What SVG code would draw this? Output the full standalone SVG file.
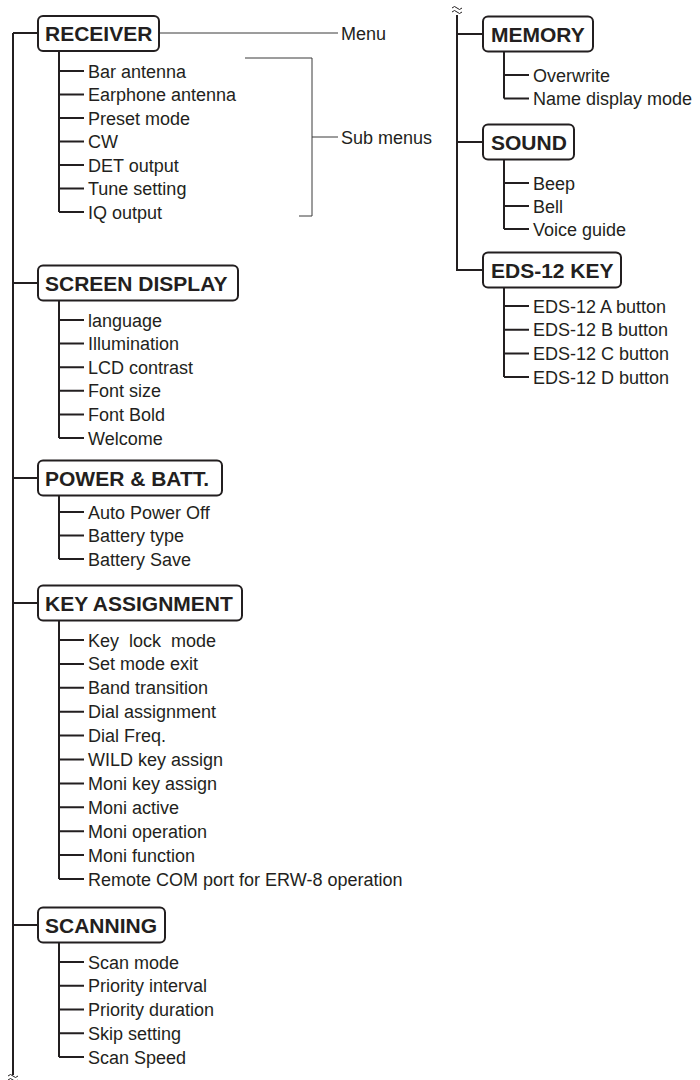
<svg xmlns="http://www.w3.org/2000/svg" width="700" height="1080" viewBox="0 0 700 1080">
<style>
.bg{fill:#ffffff}
.tree{fill:none;stroke:#231f20;stroke-width:2}
.note{fill:none;stroke:#3a3a3a;stroke-width:1}
.box{fill:#ffffff;stroke:#231f20;stroke-width:2}
.hd{font-family:"Liberation Sans",Arial,sans-serif;font-weight:bold;font-size:21px;fill:#231f20}
.it{font-family:"Liberation Sans",Arial,sans-serif;font-size:18px;fill:#231f20;white-space:pre}
.brk{fill:none;stroke:#231f20;stroke-width:1}
</style>
<rect class="bg" x="0" y="0" width="700" height="1080"/>
<g id="connectors">
  <path class="tree" d="M13,33 V1075"/>
  <path class="tree" d="M13,33 H38 M13,283 H38 M13,478 H38 M13,603 H38 M13,925 H38"/>
  <path class="tree" d="M457,15 V270"/>
  <path class="tree" d="M456,34 H483 M456,142 H483 M456,270 H483"/>
  <path class="brk" d="M452,8 q2.5,-3 5,0 t5,0 M452,12 q2.5,-3 5,0 t5,0"/>
  <path class="brk" d="M8,1076 q2.5,-3 5,0 t5,0 M8,1080 q2.5,-3 5,0 t5,0"/>
  <path class="note" d="M160,33 H338"/>
  <path class="note" d="M245,58 H312 V216 H299 M312,137 H338"/>
</g>
<g id="menu-label"><text class="it" x="341" y="39.5">Menu</text></g>
<g id="submenus-label"><text class="it" x="341" y="143.5">Sub menus</text></g>

<g id="receiver">
  <rect class="box" x="38" y="16" width="121" height="35" rx="5"/>
  <text class="hd" x="45" y="40.5">RECEIVER</text>
  <path class="tree" d="M59,51 V212 M59,71 H84 M59,94.5 H84 M59,118 H84 M59,141.5 H84 M59,165 H84 M59,188.5 H84 M59,212 H84"/>
  <text class="it" x="88" y="77.5">Bar antenna</text>
  <text class="it" x="88" y="101">Earphone antenna</text>
  <text class="it" x="88" y="124.5">Preset mode</text>
  <text class="it" x="88" y="148">CW</text>
  <text class="it" x="88" y="171.5">DET output</text>
  <text class="it" x="88" y="195">Tune setting</text>
  <text class="it" x="88" y="218.5">IQ output</text>
</g>

<g id="screen-display">
  <rect class="box" x="38" y="265.5" width="200" height="35" rx="5"/>
  <text class="hd" x="45" y="290.5">SCREEN DISPLAY</text>
  <path class="tree" d="M59,300.5 V438 M59,320 H84 M59,343.6 H84 M59,367.2 H84 M59,390.8 H84 M59,414.4 H84 M59,438 H84"/>
  <text class="it" x="88" y="326.5">language</text>
  <text class="it" x="88" y="350.1">Illumination</text>
  <text class="it" x="88" y="373.7">LCD contrast</text>
  <text class="it" x="88" y="397.3">Font size</text>
  <text class="it" x="88" y="420.9">Font Bold</text>
  <text class="it" x="88" y="444.5">Welcome</text>
</g>

<g id="power-batt">
  <rect class="box" x="38" y="460.5" width="184" height="35" rx="5"/>
  <text class="hd" x="45" y="485.5">POWER &amp; BATT.</text>
  <path class="tree" d="M59,495.5 V559 M59,512 H84 M59,535.5 H84 M59,559 H84"/>
  <text class="it" x="88" y="518.5">Auto Power Off</text>
  <text class="it" x="88" y="542">Battery type</text>
  <text class="it" x="88" y="565.5">Battery Save</text>
</g>

<g id="key-assignment">
  <rect class="box" x="38" y="585.5" width="204" height="35" rx="5"/>
  <text class="hd" x="45" y="610.5">KEY ASSIGNMENT</text>
  <path class="tree" d="M59,620.5 V879 M59,640 H84 M59,663.9 H84 M59,687.8 H84 M59,711.7 H84 M59,735.6 H84 M59,759.5 H84 M59,783.4 H84 M59,807.3 H84 M59,831.2 H84 M59,855.1 H84 M59,879 H84"/>
  <text class="it" x="88" y="646.5">Key  lock  mode</text>
  <text class="it" x="88" y="670.4">Set mode exit</text>
  <text class="it" x="88" y="694.3">Band transition</text>
  <text class="it" x="88" y="718.2">Dial assignment</text>
  <text class="it" x="88" y="742.1">Dial Freq.</text>
  <text class="it" x="88" y="766">WILD key assign</text>
  <text class="it" x="88" y="789.9">Moni key assign</text>
  <text class="it" x="88" y="813.8">Moni active</text>
  <text class="it" x="88" y="837.7">Moni operation</text>
  <text class="it" x="88" y="861.6">Moni function</text>
  <text class="it" x="88" y="885.5">Remote COM port for ERW-8 operation</text>
</g>

<g id="scanning">
  <rect class="box" x="38" y="907.5" width="127" height="35" rx="5"/>
  <text class="hd" x="45" y="932.5">SCANNING</text>
  <path class="tree" d="M59,942.5 V1057 M59,962 H84 M59,985.8 H84 M59,1009.5 H84 M59,1033.3 H84 M59,1057 H84"/>
  <text class="it" x="88" y="968.5">Scan mode</text>
  <text class="it" x="88" y="992.3">Priority interval</text>
  <text class="it" x="88" y="1016">Priority duration</text>
  <text class="it" x="88" y="1039.8">Skip setting</text>
  <text class="it" x="88" y="1063.5">Scan Speed</text>
</g>

<g id="memory">
  <rect class="box" x="483" y="16.5" width="110" height="35" rx="5"/>
  <text class="hd" x="491" y="41.5">MEMORY</text>
  <path class="tree" d="M504,51.5 V98.5 M504,75 H529 M504,98.5 H529"/>
  <text class="it" x="533" y="81.5">Overwrite</text>
  <text class="it" x="533" y="105">Name display mode</text>
</g>

<g id="sound">
  <rect class="box" x="483" y="124.5" width="91" height="35" rx="5"/>
  <text class="hd" x="491" y="149.5">SOUND</text>
  <path class="tree" d="M504,159.5 V229 M504,183 H529 M504,206 H529 M504,229 H529"/>
  <text class="it" x="533" y="189.5">Beep</text>
  <text class="it" x="533" y="212.5">Bell</text>
  <text class="it" x="533" y="235.5">Voice guide</text>
</g>

<g id="eds-12-key">
  <rect class="box" x="483" y="252.5" width="138" height="35" rx="5"/>
  <text class="hd" x="491" y="277.5">EDS-12 KEY</text>
  <path class="tree" d="M504,287.5 V377 M504,306 H529 M504,329.7 H529 M504,353.4 H529 M504,377 H529"/>
  <text class="it" x="533" y="312.5">EDS-12 A button</text>
  <text class="it" x="533" y="336.2">EDS-12 B button</text>
  <text class="it" x="533" y="359.9">EDS-12 C button</text>
  <text class="it" x="533" y="383.5">EDS-12 D button</text>
</g>
</svg>
